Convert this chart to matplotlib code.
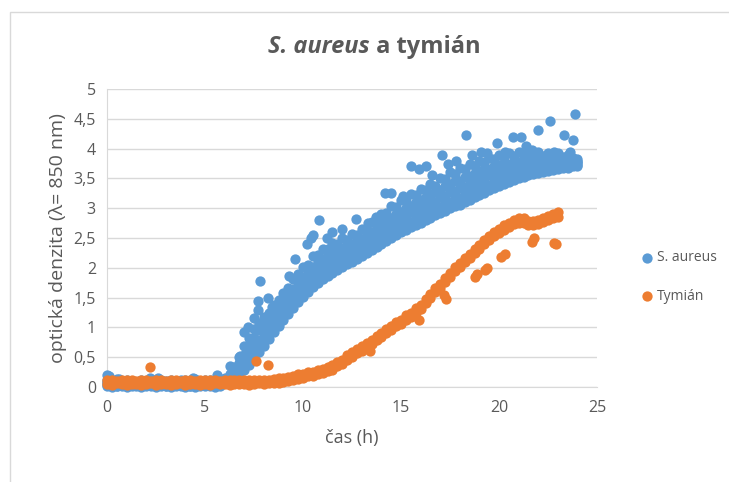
import numpy as np
import matplotlib
matplotlib.use("Agg")
import matplotlib.pyplot as plt
from matplotlib.patches import Rectangle

plt.rcParams['font.family'] = ['Open Sans', 'DejaVu Sans']

# measurement times (h), every 15 min
cas = np.arange(0, 24.01, 0.25)

# S. aureus - five replicate wells (one row = one hour)
sa_1 = [0.01, 0.00, 0.02, 0.01,  0.00, 0.01, 0.02, 0.00,  0.01, 0.01, 0.00, 0.02,
        0.01, 0.00, 0.01, 0.02,  0.00, 0.01, 0.00, 0.01,  0.02, 0.01, 0.00, 0.02,
        0.08, 0.10, 0.13, 0.19,  0.28, 0.37, 0.48, 0.58,  0.68, 0.80, 0.92, 1.03,
        1.13, 1.23, 1.33, 1.43,  1.51, 1.59, 1.67, 1.74,  1.81, 1.87, 1.92, 1.97,
        2.02, 2.06, 2.10, 2.15,  2.20, 2.25, 2.30, 2.35,  2.40, 2.45, 2.50, 2.55,
        2.60, 2.64, 2.68, 2.72,  2.76, 2.80, 2.84, 2.88,  2.92, 2.96, 3.00, 3.03,
        3.06, 3.10, 3.14, 3.18,  3.22, 3.26, 3.30, 3.34,  3.38, 3.41, 3.44, 3.47,
        3.50, 3.53, 3.55, 3.57,  3.59, 3.61, 3.63, 3.64,  3.65, 3.67, 3.68, 3.70,
        3.71]
sa_2 = [0.03, 0.04, 0.02, 0.05,  0.03, 0.04, 0.03, 0.02,  0.04, 0.03, 0.05, 0.03,
        0.02, 0.04, 0.03, 0.05,  0.03, 0.02, 0.04, 0.03,  0.04, 0.05, 0.06, 0.05,
        0.07, 0.11, 0.16, 0.25,  0.36, 0.47, 0.57, 0.69,  0.77, 0.90, 1.00, 1.12,
        1.20, 1.33, 1.41, 1.53,  1.60, 1.70, 1.76, 1.85,  1.90, 1.97, 2.00, 2.07,
        2.10, 2.16, 2.17, 2.24,  2.27, 2.34, 2.37, 2.45,  2.48, 2.56, 2.59, 2.66,
        2.69, 2.75, 2.77, 2.84,  2.86, 2.92, 2.94, 3.00,  3.02, 3.08, 3.11, 3.16,
        3.17, 3.23, 3.25, 3.30,  3.32, 3.38, 3.39, 3.45,  3.47, 3.51, 3.52, 3.56,
        3.57, 3.61, 3.61, 3.64,  3.64, 3.67, 3.66, 3.69,  3.68, 3.71, 3.69, 3.72,
        3.72]
sa_3 = [0.06, 0.05, 0.07, 0.04,  0.05, 0.06, 0.04, 0.06,  0.05, 0.07, 0.05, 0.04,
        0.06, 0.05, 0.07, 0.05,  0.04, 0.06, 0.05, 0.07,  0.06, 0.07, 0.08, 0.08,
        0.10, 0.14, 0.21, 0.31,  0.46, 0.56, 0.71, 0.79,  0.91, 1.00, 1.13, 1.22,
        1.34, 1.43, 1.55, 1.63,  1.74, 1.81, 1.91, 1.96,  2.04, 2.08, 2.15, 2.17,
        2.23, 2.25, 2.31, 2.33,  2.40, 2.43, 2.51, 2.54,  2.62, 2.66, 2.74, 2.77,
        2.84, 2.86, 2.93, 2.95,  3.01, 3.03, 3.09, 3.11,  3.18, 3.21, 3.27, 3.29,
        3.34, 3.36, 3.41, 3.43,  3.48, 3.50, 3.55, 3.56,  3.61, 3.62, 3.66, 3.66,
        3.70, 3.69, 3.72, 3.71,  3.74, 3.73, 3.76, 3.74,  3.76, 3.75, 3.77, 3.75,
        3.76]
sa_4 = [0.08, 0.09, 0.07, 0.08,  0.09, 0.07, 0.08, 0.09,  0.07, 0.08, 0.10, 0.08,
        0.09, 0.07, 0.08, 0.10,  0.08, 0.09, 0.07, 0.08,  0.09, 0.08, 0.10, 0.09,
        0.11, 0.18, 0.26, 0.41,  0.54, 0.70, 0.82, 0.95,  1.02, 1.14, 1.23, 1.35,
        1.43, 1.56, 1.65, 1.77,  1.85, 1.95, 2.01, 2.10,  2.15, 2.22, 2.25, 2.31,
        2.33, 2.39, 2.40, 2.46,  2.48, 2.56, 2.60, 2.68,  2.72, 2.81, 2.84, 2.91,
        2.94, 3.01, 3.04, 3.11,  3.13, 3.19, 3.21, 3.27,  3.30, 3.37, 3.40, 3.45,
        3.46, 3.52, 3.54, 3.59,  3.60, 3.65, 3.66, 3.71,  3.72, 3.76, 3.75, 3.79,
        3.78, 3.81, 3.80, 3.82,  3.81, 3.82, 3.81, 3.82,  3.81, 3.82, 3.80, 3.81,
        3.79]
sa_5 = [0.12, 0.10, 0.13, 0.09,  0.11, 0.10, 0.08, 0.12,  0.10, 0.13, 0.09, 0.11,
        0.10, 0.12, 0.09, 0.11,  0.12, 0.10, 0.13, 0.10,  0.11, 0.12, 0.10, 0.14,
        0.15, 0.22, 0.33, 0.50,  0.68, 0.83, 0.98, 1.08,  1.18, 1.24, 1.38, 1.46,
        1.58, 1.66, 1.82, 1.90,  2.02, 2.05, 2.20, 2.22,  2.32, 2.31, 2.42, 2.40,
        2.50, 2.47, 2.56, 2.55,  2.65, 2.64, 2.77, 2.78,  2.90, 2.92, 3.04, 3.02,
        3.13, 3.12, 3.23, 3.22,  3.32, 3.30, 3.40, 3.38,  3.50, 3.49, 3.60, 3.58,
        3.67, 3.65, 3.74, 3.71,  3.80, 3.77, 3.85, 3.82,  3.90, 3.86, 3.93, 3.88,
        3.95, 3.89, 3.94, 3.89,  3.94, 3.88, 3.93, 3.87,  3.92, 3.86, 3.90, 3.84,
        3.83]
# single stray S. aureus readings
sa_out_t = [0.0, 0.1, 0.6, 2.2, 2.6, 4.4, 5.6, 6.3, 6.8, 7.0, 7.2, 7.5, 7.7, 7.7,
            7.8, 8.2, 8.4, 9.3, 9.6, 10.2, 10.4, 10.5, 10.8, 11.2, 11.5, 12.0,
            12.7, 13.3, 13.7, 14.2, 14.5, 15.1, 15.5, 15.9, 16.3, 16.6, 17.1,
            17.4, 17.8, 18.3, 18.6, 19.1, 19.4, 19.9, 20.3, 20.7, 21.1, 21.4,
            21.7, 22.0, 22.6, 22.8, 23.3, 23.6, 23.8, 23.9, 24.0]
sa_out_v = [0.20, 0.18, 0.13, 0.15, 0.15, 0.15, 0.20, 0.35, 0.52, 0.92, 1.00,
            1.15, 1.30, 1.45, 1.78, 1.50, 1.35, 1.87, 2.15, 2.40, 2.50, 2.55,
            2.80, 2.50, 2.60, 2.65, 2.82, 2.75, 2.85, 3.25, 3.25, 3.20, 3.70,
            3.65, 3.70, 3.55, 3.90, 3.75, 3.80, 4.22, 3.90, 3.95, 3.92, 4.10,
            3.95, 4.20, 4.20, 4.05, 3.98, 4.32, 4.47, 3.95, 4.22, 3.95, 4.15,
            4.58, 3.78]

# Tymián - two replicate wells (0 - 23 h)
ty_1 = [0.05, 0.04, 0.06, 0.05,  0.04, 0.05, 0.05, 0.04,  0.05, 0.06, 0.04, 0.05,
        0.05, 0.04, 0.05, 0.06,  0.04, 0.05, 0.05, 0.04,  0.05, 0.04, 0.06, 0.05,
        0.05, 0.04, 0.05, 0.05,  0.05, 0.04, 0.05, 0.06,  0.05, 0.06, 0.07, 0.07,
        0.09, 0.10, 0.11, 0.14,  0.15, 0.18, 0.19, 0.22,  0.23, 0.27, 0.29, 0.35,
        0.39, 0.46, 0.51, 0.57,  0.61, 0.67, 0.72, 0.79,  0.84, 0.91, 0.96, 1.02,
        1.06, 1.13, 1.18, 1.25,  1.31, 1.41, 1.49, 1.59,  1.66, 1.76, 1.84, 1.94,
        2.01, 2.10, 2.16, 2.25,  2.31, 2.40, 2.46, 2.53,  2.58, 2.64, 2.68, 2.74,
        2.76, 2.76, 2.72, 2.72,  2.73, 2.77, 2.80, 2.84,  2.86]
ty_2 = [0.11, 0.12, 0.10, 0.11,  0.12, 0.11, 0.10, 0.12,  0.11, 0.10, 0.12, 0.11,
        0.10, 0.12, 0.11, 0.10,  0.12, 0.11, 0.10, 0.12,  0.11, 0.12, 0.11, 0.10,
        0.11, 0.12, 0.11, 0.12,  0.11, 0.12, 0.11, 0.12,  0.12, 0.12, 0.13, 0.15,
        0.15, 0.17, 0.18, 0.21,  0.22, 0.25, 0.26, 0.29,  0.30, 0.34, 0.37, 0.42,
        0.46, 0.53, 0.58, 0.64,  0.68, 0.74, 0.79, 0.86,  0.91, 0.98, 1.03, 1.09,
        1.13, 1.20, 1.25, 1.32,  1.38, 1.48, 1.56, 1.66,  1.73, 1.83, 1.91, 2.01,
        2.08, 2.17, 2.23, 2.32,  2.38, 2.47, 2.53, 2.60,  2.65, 2.71, 2.75, 2.81,
        2.83, 2.83, 2.79, 2.79,  2.80, 2.84, 2.87, 2.91,  2.94]
ty_out_t = [2.2, 7.6, 8.2, 13.4, 15.9, 17.2, 17.3, 18.8, 18.9, 19.3, 19.4, 20.1,
            20.3, 21.7, 21.8, 22.8, 22.9]
ty_out_v = [0.33, 0.43, 0.37, 0.60, 1.12, 1.55, 1.48, 1.84, 1.90, 1.97, 2.00,
            2.18, 2.23, 2.44, 2.50, 2.42, 2.40]

blue = '#5B9BD5'
orange = '#ED7D31'
grey_txt = '#595959'
grid_c = '#D9D9D9'
ms = 55

fig = plt.figure(figsize=(7.29, 4.82), dpi=100)
ax = fig.add_axes([107/729, 1 - 387/482, 490/729, 298/482])

for rep in [sa_1, sa_2, sa_3, sa_4, sa_5]:
    ax.scatter(cas[:len(rep)], rep, s=ms, color=blue, linewidths=0, clip_on=False, zorder=3)
ax.scatter(sa_out_t, sa_out_v, s=ms, color=blue, linewidths=0, clip_on=False, zorder=3)
for rep in [ty_1, ty_2]:
    ax.scatter(cas[:len(rep)], rep, s=ms, color=orange, linewidths=0, clip_on=False, zorder=4)
ax.scatter(ty_out_t, ty_out_v, s=ms, color=orange, linewidths=0, clip_on=False, zorder=4)

ax.set_xlim(0, 25)
ax.set_ylim(0, 5)
ax.set_xticks(range(0, 26, 5))
ax.set_yticks(np.arange(0, 5.01, 0.5))
ax.set_yticklabels(['0', '0,5', '1', '1,5', '2', '2,5', '3', '3,5', '4', '4,5', '5'])
ax.tick_params(length=0, labelsize=11.5, colors=grey_txt)
ax.tick_params(axis='y', pad=8)
ax.tick_params(axis='x', pad=9)
ax.grid(axis='y', color=grid_c, linewidth=1)
ax.set_axisbelow(True)
for s in ['top', 'right']:
    ax.spines[s].set_visible(False)
ax.spines['left'].set_color(grid_c)
ax.spines['bottom'].set_color(grid_c)

ax.set_xlabel('čas (h)', fontsize=13, color=grey_txt, labelpad=10)
ax.set_ylabel('optická denzita (λ= 850 nm)', fontsize=14, color=grey_txt, labelpad=5)

# chart frame
fig.patches.append(Rectangle((10/729, -0.1), 1.0, 1 - 12/482 + 0.1, transform=fig.transFigure,
                             fill=False, edgecolor=grid_c, linewidth=1))

# title: italic species name + plain rest
t1 = fig.text(0, 1 - 47/482, 'S. aureus', fontsize=17, weight='bold', style='italic',
              color=grey_txt, ha='left', va='center')
t2 = fig.text(0, 1 - 47/482, ' a tymián', fontsize=17, weight='bold',
              color=grey_txt, ha='left', va='center')
r = fig.canvas.get_renderer()
w1 = t1.get_window_extent(r).width
w2 = t2.get_window_extent(r).width
x0 = 374 - (w1 + w2) / 2
t1.set_x(x0 / 729)
t2.set_x((x0 + w1) / 729)

h1 = ax.scatter([], [], s=ms, color=blue, linewidths=0)
h2 = ax.scatter([], [], s=ms, color=orange, linewidths=0)
leg = fig.legend([h1, h2], ['S. aureus', 'Tymián'], loc='center left',
                 bbox_to_anchor=(626/729, 1 - 277/482), frameon=False,
                 fontsize=10, handletextpad=0.1, labelspacing=1.7, handlelength=1.2)
for t in leg.get_texts():
    t.set_color(grey_txt)

fig.savefig('out.png', dpi=100)
